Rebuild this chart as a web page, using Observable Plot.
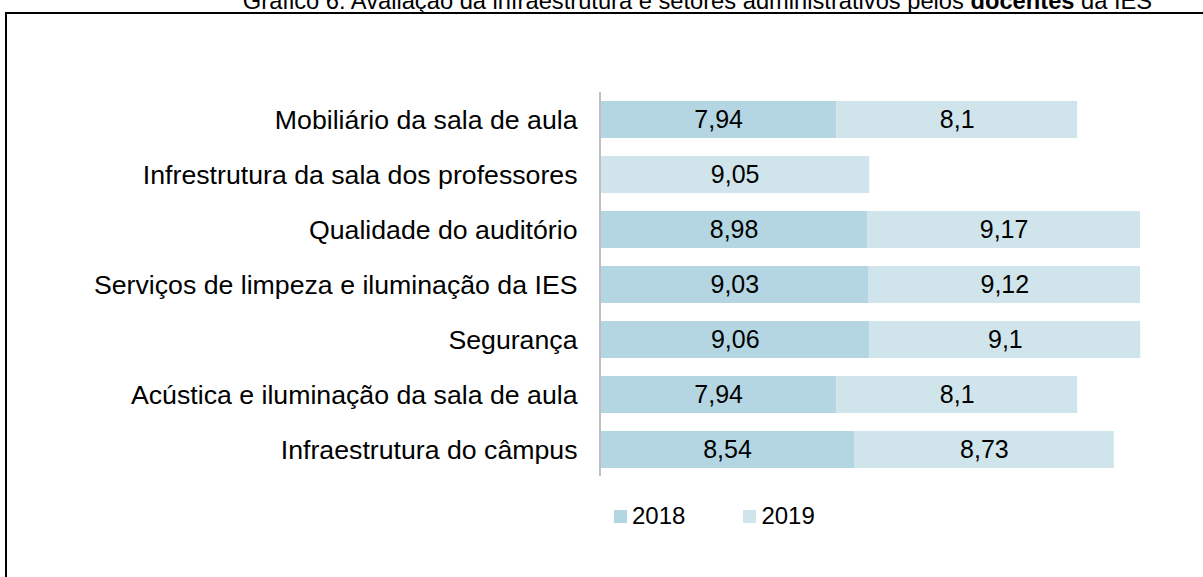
<!DOCTYPE html>
<html>
<head>
<meta charset="utf-8">
<script src="https://cdn.jsdelivr.net/npm/d3@7"></script>
<script src="https://cdn.jsdelivr.net/npm/@observablehq/plot@0.6"></script>
<style>
  html, body { margin: 0; padding: 0; background: #fff; }
  #wrap { position: relative; width: 1203px; height: 577px; overflow: hidden; font-family: "Liberation Sans", Arial, sans-serif; color: #000; }
  #title { position: absolute; top: -11px; left: 0; width: 1395px; text-align: center; font-size: 23.7px; line-height: 24px; white-space: nowrap; }
  #frame { position: absolute; left: 5px; top: 12px; width: 1400px; height: 800px; border-left: 2px solid #000; border-top: 2px solid #000; z-index: 2; pointer-events: none; }
  #chart { position: absolute; left: 0; top: 0; }
  #legend { position: absolute; left: 614px; top: 502px; }
  .lg-swatches { font-family: "Liberation Sans", Arial, sans-serif !important; font-size: 24px !important; color: #000 !important; margin: 0 !important; min-height: 0 !important; }
  .lg-swatch { margin-right: 58px !important; }
  .lg-swatch > svg { margin-right: 5px !important; }
</style>
</head>
<body>
<div id="wrap">
  <div id="title">Gráfico 6: Avaliação da infraestrutura e setores administrativos pelos <b>docentes</b> da IES</div>
  <div id="chart"></div>
  <div id="legend"></div>
  <div id="frame"></div>
</div>
<script>
const categories = [
  "Mobiliário da sala de aula",
  "Infrestrutura da sala dos professores",
  "Qualidade do auditório",
  "Serviços de limpeza e iluminação da IES",
  "Segurança",
  "Acústica e iluminação da sala de aula",
  "Infraestrutura do câmpus"
];
const years = ["2018", "2019"];
const values2018 = [7.94, null, 8.98, 9.03, 9.06, 7.94, 8.54];
const values2019 = [8.1, 9.05, 9.17, 9.12, 9.1, 8.1, 8.73];
const colors = ["#b4d6e2", "#d0e4eb"];

const series = [values2018, values2019];
const data = [];
categories.forEach((cat, i) => {
  years.forEach((year, j) => {
    const v = series[j][i];
    if (v != null) data.push({cat, year, value: v});
  });
});
const fmt = d => String(d.value).replace(".", ",");
const font = "'Liberation Sans', Arial, sans-serif";

const chart = Plot.plot({
  width: 1203,
  height: 490,
  marginLeft: 600,
  marginRight: 8,
  marginTop: 92,
  marginBottom: 14,
  x: {domain: [0, 20], axis: null},
  y: {domain: categories, paddingInner: 0.335, paddingOuter: 0.145, tickSize: 0, tickPadding: 23, label: null},
  color: {domain: years, range: colors},
  style: {fontFamily: font, fontSize: "26.7px", color: "#000", background: "transparent", overflow: "visible"},
  marks: [
    Plot.barX(data, {x: "value", y: "cat", fill: "year"}),
    Plot.text(data, Plot.stackX({x: "value", y: "cat", z: "year", text: fmt, fontSize: 25, fill: "#000"})),
    Plot.ruleX([0], {stroke: "#bfbfbf", strokeWidth: 2, dx: -0.5})
  ]
});
document.getElementById("chart").appendChild(chart);

const legend = Plot.legend({
  color: {type: "categorical", domain: years, range: colors},
  legend: "swatches",
  swatchSize: 13,
  className: "lg",
  style: {fontFamily: font, fontSize: "24px", color: "#000"}
});
document.getElementById("legend").appendChild(legend);
</script>
</body>
</html>
